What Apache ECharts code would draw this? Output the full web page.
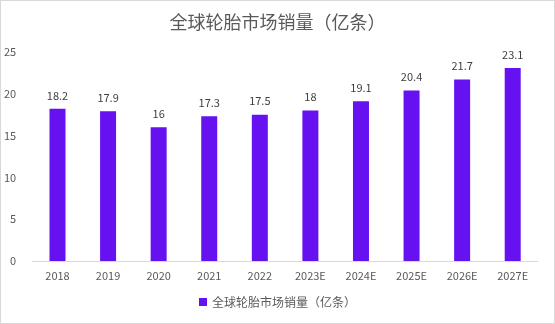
<!DOCTYPE html>
<html>
<head>
<meta charset="utf-8">
<script src="https://cdn.jsdelivr.net/npm/echarts@6/dist/echarts.min.js"></script>
<style>
  html, body { margin: 0; padding: 0; background: #fff; }
  #chart { width: 553px; height: 322px; border: 1px solid #d9d9d9; }
</style>
</head>
<body>
<div id="chart"></div>
<script>
// Global tyre market volume, hundreds of millions of units
const categories = ['2018', '2019', '2020', '2021', '2022', '2023E', '2024E', '2025E', '2026E', '2027E'];
const salesVolume = [18.2, 17.9, 16, 17.3, 17.5, 18, 19.1, 20.4, 21.7, 23.1];
const seriesName = '全球轮胎市场销量（亿条）';
const titleText = '全球轮胎市场销量（亿条）';

const chart = echarts.init(document.getElementById('chart'));
const font = '"Noto Sans CJK SC", "Noto Sans", sans-serif';

chart.setOption({
  animation: false,
  title: {
    text: titleText,
    left: 'center',
    top: 7,
    textStyle: { color: '#595959', fontSize: 18, fontWeight: 'normal', fontFamily: font }
  },
  legend: {
    data: [seriesName],
    bottom: 10,
    left: 'center',
    icon: 'rect',
    itemWidth: 8,
    itemHeight: 8,
    itemGap: 5,
    textStyle: { color: '#595959', fontSize: 12, fontFamily: font }
  },
  grid: { left: 31, right: 16, top: 51, bottom: 62, containLabel: false },
  xAxis: {
    type: 'category',
    data: categories,
    axisLine: { lineStyle: { color: '#d9d9d9' } },
    axisTick: { show: false },
    axisLabel: { color: '#595959', fontSize: 11, margin: 9, fontFamily: font }
  },
  yAxis: {
    type: 'value',
    min: 0,
    max: 25,
    interval: 5,
    splitLine: { show: false },
    axisLine: { show: false },
    axisTick: { show: false },
    axisLabel: { color: '#595959', fontSize: 11, margin: 16, fontFamily: font }
  },
  series: [{
    name: seriesName,
    type: 'bar',
    data: salesVolume,
    barWidth: 16,
    itemStyle: { color: '#6612f0' },
    label: {
      show: true,
      position: 'top',
      distance: 8,
      color: '#404040',
      fontSize: 11,
      fontFamily: font
    }
  }]
});
</script>
</body>
</html>
